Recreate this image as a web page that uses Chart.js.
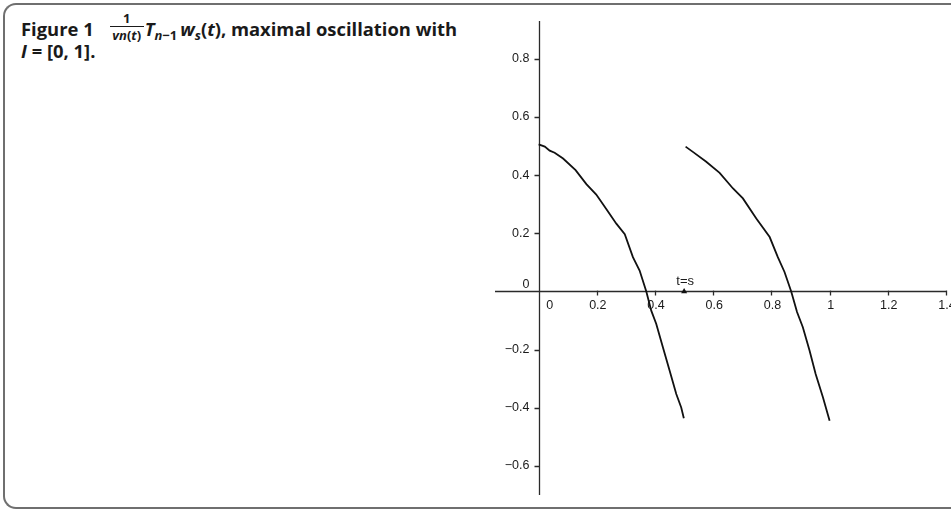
<!DOCTYPE html>
<html>
<head>
<meta charset="utf-8">
<script src="https://cdn.jsdelivr.net/npm/chart.js@4"></script>
<style>
  html, body { margin: 0; padding: 0; background: #fff; overflow: hidden; }
  #page { position: relative; width: 951px; height: 509px; overflow: hidden; }
  .frame {
    position: absolute; left: 3px; top: 3px; width: 1000px; height: 502px;
    border: 2px solid #6f6f6f; border-right: none; border-radius: 13px 0 0 13px;
  }
  .caption {
    position: absolute; left: 21px; white-space: nowrap;
    font-family: 'Open Sans', sans-serif; font-weight: 700; font-size: 18.4px;
    line-height: 22px; color: #1a1a1a;
  }
  .line1 { top: 18px; }
  .line2 { top: 40px; }
  .caption sub { font-size: 13px; vertical-align: -4px; line-height: 0; }
  .frac {
    display: inline-block; position: relative; width: 34px; height: 10px;
    margin: 0 1px 0 16px; font-size: 13px; line-height: 13px;
  }
  .frac .num, .frac .den { position: absolute; left: 0; width: 100%; text-align: center; }
  .frac .num { top: -14px; }
  .frac .bar { position: absolute; left: 0; width: 100%; top: 0; height: 1.3px; background: #1a1a1a; }
  .frac .den { top: 2.5px; }
  #chart { position: absolute; left: 480px; top: 0; }
</style>
</head>
<body>
<div id="page">
<div class="frame"></div>
<div class="caption line1">Figure 1<span class="frac"><span class="num">1</span><span class="bar"></span><span class="den"><i>vn</i>(<i>t</i>)</span></span><i>T</i><sub><i>n</i>−1</sub>&#8201;<i>w<sub>s</sub></i>(<i>t</i>), maximal oscillation with</div>
<div class="caption line2"><i>I</i> = [0, 1].</div>
<canvas id="chart" width="480" height="509"></canvas>
</div>
<script>
// ── curve: first branch on [0, 0.5]
const branchAt = [0.000, 0.021, 0.038, 0.055, 0.084, 0.127, 0.164, 0.198, 0.233, 0.267, 0.296,
                  0.324, 0.347, 0.370, 0.387, 0.404, 0.427, 0.450, 0.473, 0.490, 0.499];
const branchAw = [0.506, 0.498, 0.484, 0.477, 0.457, 0.417, 0.369, 0.333, 0.283, 0.233, 0.197,
                  0.118, 0.072, 0.000, -0.066, -0.111, -0.192, -0.272, -0.353, -0.399, -0.436];

// second branch on [0.5, 1]
const branchBt = [0.505, 0.530, 0.576, 0.622, 0.668, 0.702, 0.748, 0.794, 0.822, 0.845, 0.868,
                  0.888, 0.908, 0.931, 0.952, 0.977, 1.000];
const branchBw = [0.498, 0.480, 0.446, 0.408, 0.354, 0.320, 0.251, 0.187, 0.118, 0.067, 0.000,
                  -0.071, -0.123, -0.203, -0.284, -0.364, -0.445];

const markerT = [0.5];
const markerW = [0];
const markerLabel = 't=s';

const xTicks = [0, 0.2, 0.4, 0.6, 0.8, 1, 1.2, 1.4];
const xTickLabels = ['0', '0.2', '0.4', '0.6', '0.8', '1', '1.2', '1.4'];
const yTicks = [-0.6, -0.4, -0.2, 0, 0.2, 0.4, 0.6, 0.8];
const yTickLabels = ['−0.6', '−0.4', '−0.2', '0', '0.2', '0.4', '0.6', '0.8'];

const toPoints = (xs, ys) => xs.map((v, i) => ({ x: v, y: ys[i] }));

// axes cross at the origin, so they are drawn by hand from the scales
const crossAxes = {
  id: 'crossAxes',
  beforeDatasetsDraw(chart) {
    const { ctx, chartArea: a, scales: { x, y } } = chart;
    const x0 = Math.round(x.getPixelForValue(0)) + 0.5;
    const y0 = Math.round(y.getPixelForValue(0)) + 0.5;

    ctx.save();
    ctx.strokeStyle = '#2a2a2a';
    ctx.lineWidth = 1.3;
    ctx.beginPath();
    ctx.moveTo(a.left, y0);  ctx.lineTo(a.right, y0);
    ctx.moveTo(x0, a.top);   ctx.lineTo(x0, a.bottom);
    xTicks.forEach(v => {
      const p = Math.round(x.getPixelForValue(v)) + 0.5;
      ctx.moveTo(p, y0 - 1); ctx.lineTo(p, y0 + 4);
    });
    yTicks.forEach(v => {
      const p = Math.round(y.getPixelForValue(v)) + 0.5;
      ctx.moveTo(x0, p); ctx.lineTo(x0 - 5, p);
    });
    ctx.stroke();

    ctx.fillStyle = '#1a1a1a';
    ctx.font = '12.5px "Liberation Sans", Arial, sans-serif';
    ctx.textAlign = 'center';
    ctx.textBaseline = 'middle';
    xTicks.forEach((v, i) => {
      const p = x.getPixelForValue(v) + (v === 0 ? 11 : 1);
      ctx.fillText(xTickLabels[i], p, y0 + 14);
    });
    ctx.textAlign = 'right';
    yTicks.forEach((v, i) => {
      const p = y.getPixelForValue(v) - (v === 0 ? 7 : 0);
      ctx.fillText(yTickLabels[i], x0 - 10, p);
    });

    ctx.textAlign = 'center';
    ctx.font = '13px "Liberation Sans", Arial, sans-serif';
    ctx.fillText(markerLabel, x.getPixelForValue(markerT[0]) + 1, y.getPixelForValue(markerW[0]) - 10);
    ctx.restore();
  }
};

function drawChart() {
  const canvas = document.getElementById('chart');
  const ctx = canvas.getContext('2d');

  const curve = {
    showLine: true,
    borderColor: '#111',
    borderWidth: 1.8,
    pointRadius: 0,
    tension: 0,
    fill: false
  };

  new Chart(ctx, {
    type: 'scatter',
    data: {
      datasets: [
        { ...curve, data: toPoints(branchAt, branchAw) },
        { ...curve, data: toPoints(branchBt, branchBw) },
        {
          data: toPoints(markerT, markerW),
          pointStyle: 'triangle',
          pointRadius: 3.5,
          backgroundColor: '#111',
          borderColor: '#111',
          borderWidth: 0
        }
      ]
    },
    options: {
      responsive: false,
      animation: false,
      devicePixelRatio: 1,
      layout: { padding: { left: 15, right: 14, top: 21, bottom: 14 } },
      plugins: {
        legend: { display: false },
        tooltip: { enabled: false }
      },
      scales: {
        x: { type: 'linear', min: -0.15, max: 1.4, display: false },
        y: { type: 'linear', min: -0.7, max: 0.93, display: false }
      }
    },
    plugins: [crossAxes]
  });
}

window.addEventListener('DOMContentLoaded', () => {
  drawChart();
});
</script>
</body>
</html>
